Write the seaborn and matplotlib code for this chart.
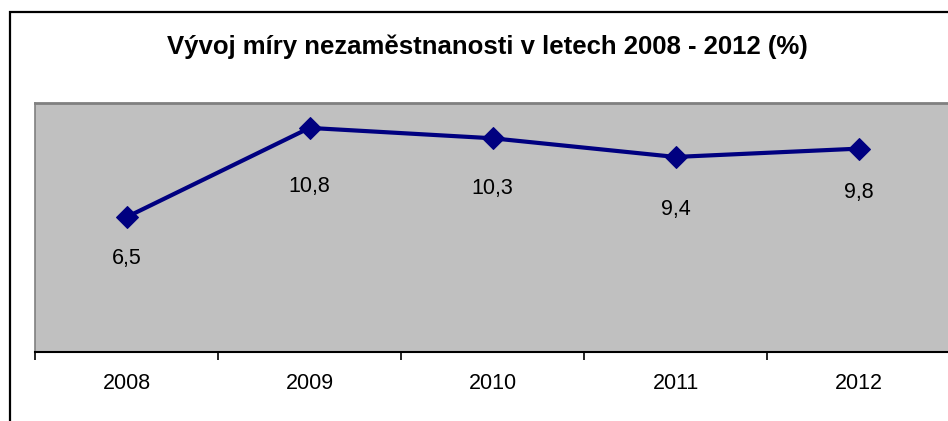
import matplotlib
matplotlib.use("Agg")
import matplotlib.pyplot as plt
import matplotlib.patches as mpatches
import seaborn as sns
import pandas as pd

years = ["2008", "2009", "2010", "2011", "2012"]
rates = [6.5, 10.8, 10.3, 9.4, 9.8]
value_labels = ["6,5", "10,8", "10,3", "9,4", "9,8"]
title = "Vývoj míry nezaměstnanosti v letech 2008 - 2012 (%)"

label_offsets_pt = [-29.5, -42.5, -36.5, -38, -31.5]

sns.set_style("white")
plt.rcParams['font.family'] = ['Liberation Sans', 'DejaVu Sans']
plt.rcParams['text.color'] = 'black'
plt.rcParams['xtick.color'] = 'black'
plt.rcParams['xtick.labelcolor'] = 'black'

df = pd.DataFrame({"idx": list(range(len(years))), "rate": rates})

fig = plt.figure(figsize=(9.48, 4.21), dpi=100)
ax = fig.add_axes([35/948, 69/421, 915/948, 249/421])
ax.set_facecolor("#C0C0C0")

sns.lineplot(data=df, x="idx", y="rate", ax=ax, color="#000080", lw=3,
             marker="D", markersize=11, markeredgecolor="#000080")

for i, (v, lab, off) in enumerate(zip(rates, value_labels, label_offsets_pt)):
    ax.annotate(lab, (i, v), xytext=(0, off), textcoords="offset points",
                ha="center", va="center", fontsize=15.5, color="black")

ax.set_xlim(-0.5, len(years) - 0.5)
ax.set_ylim(0, 12)
ax.set_yticks([])
ax.set_xticks([i + 0.5 for i in range(-1, len(years))], minor=False)
ax.set_xticklabels([])
ax.set_xticks(list(range(len(years))), minor=True)
ax.set_xticklabels(years, minor=True, fontsize=15.5, color="black")
ax.tick_params(axis="x", which="major", length=6, width=1.2, color="black", direction="out", bottom=True)
ax.tick_params(axis="x", which="minor", length=0, pad=15)
ax.set_xlabel("")
ax.set_ylabel("")

for s in ["top", "left"]:
    ax.spines[s].set_color("#808080")
ax.spines["top"].set_linewidth(2)
ax.spines["left"].set_linewidth(1.2)
ax.spines["right"].set_visible(False)
ax.spines["bottom"].set_color("black")
ax.spines["bottom"].set_linewidth(1.5)

fig.text(487/948, 1 - 47/421, title, ha="center", va="center",
         fontsize=18.5, fontweight="bold", color="black")

frame = mpatches.Rectangle((10/948, -0.1), 1.2, 1 - 12/421 + 0.1, transform=fig.transFigure,
                           fill=False, edgecolor="black", lw=1.6, zorder=10)
fig.patches.append(frame)

fig.savefig("out.png", dpi=100)
